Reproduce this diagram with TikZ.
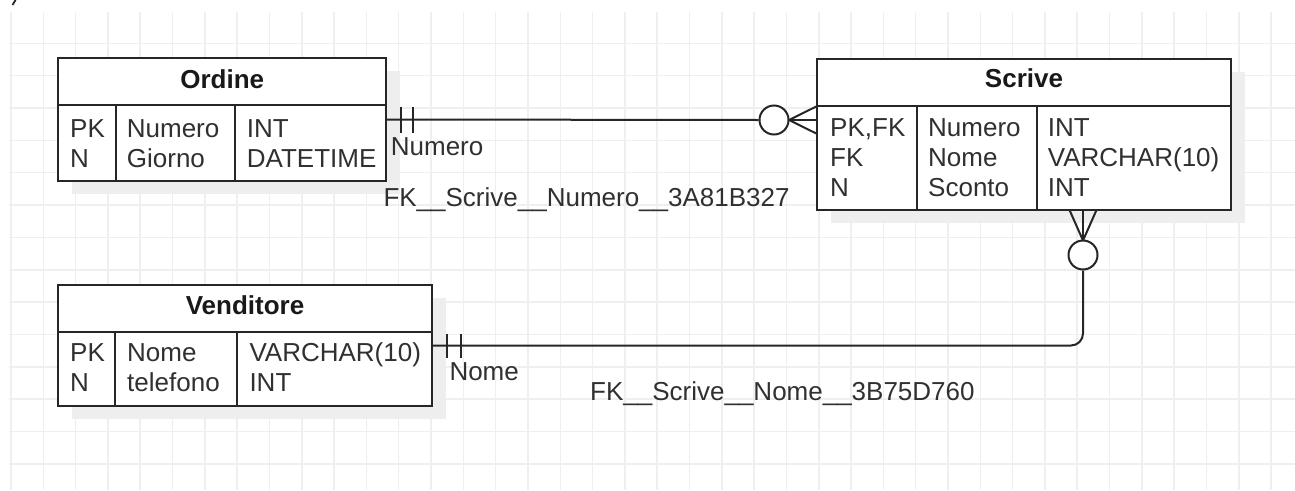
\documentclass[tikz,border=0pt]{standalone}
\usepackage{fontspec}
\setmainfont{Liberation Sans}
\usetikzlibrary{shadows}
\definecolor{linec}{HTML}{262626}
\definecolor{txtc}{HTML}{303030}
\definecolor{gridc}{HTML}{EFEFEF}
\definecolor{shadc}{HTML}{EEEEEE}
\begin{document}
\begin{tikzpicture}[x=1pt,y=-1pt,
  tbl/.style={draw=linec, line width=2pt, fill=white, inner sep=0pt,
    drop shadow={shadow xshift=14pt, shadow yshift=-13pt, fill=shadc, opacity=1}},
  inner/.style={draw=linec, line width=2pt},
  txt/.style={anchor=base west, inner sep=0pt, text=txtc, font=\fontsize{26}{30}\selectfont},
  hdr/.style={anchor=base, inner sep=0pt, text=black!90, font=\bfseries\fontsize{26}{30}\selectfont},
  conn/.style={draw=linec, line width=2pt},
  endc/.style={circle, draw=linec, line width=2pt, fill=white, minimum size=29pt, inner sep=0pt},
  gridl/.style={draw=gridc, line width=1.5pt}
]
\useasboundingbox (0,0) rectangle (1295,490);
% grid
\foreach \k in {0,...,39} { \draw[gridl] (11+32.31*\k,12) -- (11+32.31*\k,490); }
\foreach \k in {0,...,13} { \draw[gridl] (9,43.3+32.35*\k) -- (1295,43.3+32.35*\k); }
% cut-off fragment at top left
\draw[line width=1.8pt, linec] (15.5,0) -- (12.5,5);

% ---- Ordine
\node[tbl, minimum width=327.7pt, minimum height=122.4pt] (ordine) at (222.2,119.5) {};
\draw[inner] (58.3,105.3) -- (386,105.3);
\draw[inner] (115.7,105.3) -- (115.7,180.7);
\draw[inner] (235,105.3) -- (235,180.7);
\node[hdr] (ordineh) at (222.2,88) {Ordine};
\node[txt] (o11) at (70,137) {PK};
\node[txt] (o21) at (70,167) {N};
\node[txt] (o12) at (126.7,137) {Numero};
\node[txt] (o22) at (126.7,167) {Giorno};
\node[txt] (o13) at (246.7,137) {INT};
\node[txt] (o23) at (246.7,167) {DATETIME};

% ---- Scrive
\node[tbl, minimum width=413.4pt, minimum height=150.7pt] (scrive) at (1024,134.65) {};
\draw[inner] (817.3,105.7) -- (1230.7,105.7);
\draw[inner] (917.3,105.7) -- (917.3,210);
\draw[inner] (1036.7,105.7) -- (1036.7,210);
\node[hdr] (scriveh) at (1024,87.5) {Scrive};
\node[txt] (s11) at (830,136) {PK,FK};
\node[txt] (s21) at (830,166.5) {FK};
\node[txt] (s31) at (830,196.5) {N};
\node[txt] (s12) at (928,136) {Numero};
\node[txt] (s22) at (928,166.5) {Nome};
\node[txt] (s32) at (928,196.5) {Sconto};
\node[txt] (s13) at (1047.7,136) {INT};
\node[txt] (s23) at (1047.7,166.5) {VARCHAR(10)};
\node[txt] (s33) at (1047.7,196.5) {INT};

% ---- Venditore
\node[tbl, minimum width=373.4pt, minimum height=121pt] (vend) at (245,345.5) {};
\draw[inner] (58.3,331.7) -- (431.7,331.7);
\draw[inner] (115,331.7) -- (115,406);
\draw[inner] (237.3,331.7) -- (237.3,406);
\node[hdr] (vendh) at (245,314) {Venditore};
\node[txt] (v11) at (70,361.7) {PK};
\node[txt] (v21) at (70,391.7) {N};
\node[txt] (v12) at (127,361.7) {Nome};
\node[txt] (v22) at (127,391.7) {telefono};
\node[txt] (v13) at (249.3,361.7) {VARCHAR(10)};
\node[txt] (v23) at (249.3,391.7) {INT};

% ---- connector Ordine -> Scrive
\node[endc] (c1) at (774,120) {};
\coordinate (f1) at (789,120);
\coordinate (s1) at (817.3,120);
\draw[conn] (ordine.east) -- (c1.west);
\draw[conn] (c1.east) -- (s1);
\draw[conn] (f1) -- ([yshift=14pt]s1) (f1) -- ([yshift=-14pt]s1);
\draw[conn] (401,107) -- (401,133) (413,107) -- (413,133);
\node[txt] (l1) at (390.7,155) {Numero};
\node[txt] (l1b) at (383.3,206.7) {FK\_\_Scrive\_\_Numero\_\_3A81B327};

% ---- connector Venditore -> Scrive
\node[endc] (c2) at (1083,255) {};
\coordinate (f2) at (1083,240.5);
\coordinate (s2) at (1083,210);
\draw[conn, rounded corners=12pt] (vend.east) -| (c2.south);
\draw[conn] (c2.north) -- (s2);
\draw[conn] (f2) -- ([xshift=-13.5pt]s2) (f2) -- ([xshift=13.5pt]s2);
\draw[conn] (447,334) -- (447,358) (461,334) -- (461,358);
\node[txt] (l2) at (449.3,380) {Nome};
\node[txt] (l2b) at (590,400.7) {FK\_\_Scrive\_\_Nome\_\_3B75D760};
\end{tikzpicture}
\end{document}
